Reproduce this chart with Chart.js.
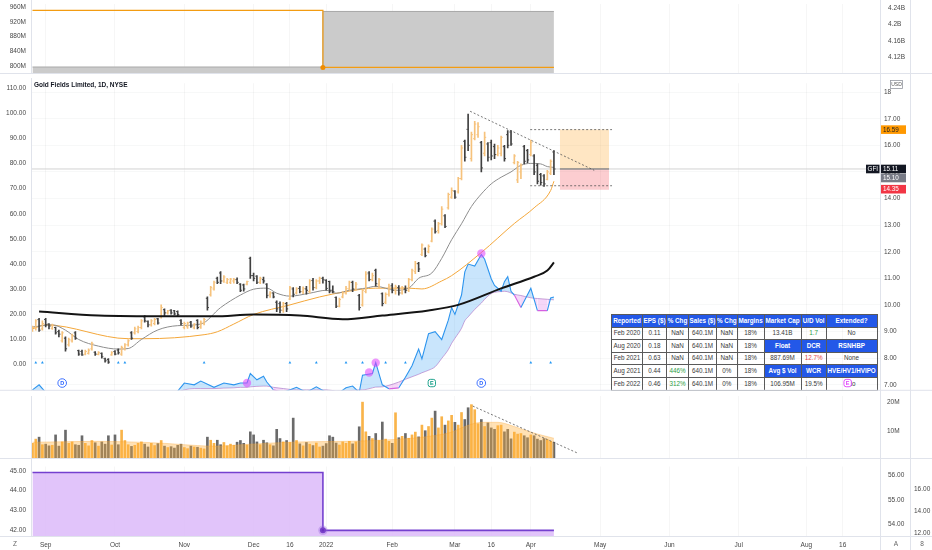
<!DOCTYPE html>
<html>
<head>
<meta charset="utf-8">
<title>Gold Fields Limited, 1D, NYSE</title>
<script src="https://cdn.jsdelivr.net/npm/chart.js@4.4.1/dist/chart.umd.min.js"></script>
<style>
  body { margin: 0; background: #fff; }
  #wrap { position: relative; width: 932px; height: 550px; overflow: hidden; }
  #wrap canvas { position: absolute; left: 0; z-index: 1; }
  #tbl { position: absolute; left: 611px; top: 314px; z-index: 0; border-collapse: collapse; table-layout: fixed;
         font: 6.3px "Liberation Sans", Arial, sans-serif; color: #3a3a3a; background: #fff; }
  #tbl td { border: 1px solid #5a5a5a; height: 11.6px; padding: 0; line-height: 1; text-align: center; white-space: nowrap; overflow: hidden; }
  #tbl tr.h td, #tbl td.b { background: #2358e8; color: #fff; font-weight: bold; }
  #tbl .g { color: #2e9e45; }
  #tbl .r { color: #e5484d; }
</style>
</head>
<body>
<div id="wrap">
  <table id="tbl">
    <colgroup><col style="width:31px"><col style="width:24px"><col style="width:22px"><col style="width:28px"><col style="width:20px"><col style="width:27px"><col style="width:37px"><col style="width:25px"><col style="width:51px"></colgroup>
    <tr class="h"><td>Reported</td><td>EPS ($)</td><td>% Chg</td><td>Sales ($)</td><td>% Chg</td><td>Margins</td><td>Market Cap</td><td>U/D Vol</td><td>Extended?</td></tr>
    <tr><td>Feb 2020</td><td>0.11</td><td>NaN</td><td>640.1M</td><td>NaN</td><td>18%</td><td>13.41B</td><td class="g">1.7</td><td>No</td></tr>
    <tr><td>Aug 2020</td><td>0.18</td><td>NaN</td><td>640.1M</td><td>NaN</td><td>18%</td><td class="b">Float</td><td class="b">DCR</td><td class="b">RSNHBP</td></tr>
    <tr><td>Feb 2021</td><td>0.63</td><td>NaN</td><td>640.1M</td><td>NaN</td><td>18%</td><td>887.69M</td><td class="r">12.7%</td><td>None</td></tr>
    <tr><td>Aug 2021</td><td>0.44</td><td class="g">446%</td><td>640.1M</td><td>0%</td><td>18%</td><td class="b">Avg $ Vol</td><td class="b">WCR</td><td class="b">HVE/HV1/HVIPO</td></tr>
    <tr><td>Feb 2022</td><td>0.46</td><td class="g">312%</td><td>640.1M</td><td>0%</td><td>18%</td><td>106.95M</td><td>19.5%</td><td>No</td></tr>
  </table>
  <canvas id="cTop" width="932" height="78" style="top:0"></canvas>
  <canvas id="cMain" width="932" height="318" style="top:78px"></canvas>
  <canvas id="cVol" width="932" height="63" style="top:396px"></canvas>
  <canvas id="cBot" width="932" height="91" style="top:459px"></canvas>
</div>
<script>
// daily bars, index 0 = Aug 26 2021, last = Apr 12 2022
var opens = [
  9.05,9.15,9.45,9.10,9.45,9.28,9.12,9.15,9.00,8.65,
  8.75,8.50,8.65,8.95,8.28,8.25,8.15,8.18,8.35,8.22,
  8.14,8.18,7.98,7.95,8.12,8.25,8.30,8.15,8.35,8.50,
  8.95,8.95,9.00,9.15,9.55,9.38,9.25,9.30,9.48,9.55,
  9.82,9.70,9.80,9.78,9.75,9.42,9.15,9.18,9.35,9.14,
  9.42,9.18,9.30,10.25,10.38,10.60,11.00,11.20,10.90,10.85,
  10.85,10.90,10.95,10.78,10.75,10.78,11.75,11.10,11.08,10.85,
  10.95,10.78,10.40,10.45,10.10,10.05,9.80,10.05,10.22,10.60,
  10.45,10.62,10.50,10.60,10.50,10.92,10.65,10.90,11.00,10.92,
  10.88,10.55,10.28,9.95,10.30,10.45,10.60,10.85,10.60,10.35,
  10.00,10.50,11.20,10.95,11.30,10.75,10.42,10.10,10.40,10.72,
  10.55,10.65,10.45,10.60,10.55,10.95,11.25,11.55,11.90,12.10,
  12.00,12.40,13.15,12.80,13.05,13.35,13.65,14.05,14.28,14.25,
  14.75,16.15,16.60,15.50,16.25,16.40,16.10,15.70,16.05,16.10,
  15.95,15.65,15.70,15.95,16.40,16.50,15.35,14.70,15.00,15.95,
  15.80,15.65,15.60,15.25,14.90,14.85,14.72,14.95,15.75
];
var highs = [
  9.20,9.45,9.50,9.40,9.50,9.30,9.28,9.17,9.05,9.00,
  8.80,8.75,8.90,9.00,8.30,8.30,8.30,8.35,8.60,8.25,
  8.25,8.20,8.00,7.98,8.25,8.28,8.35,8.45,8.55,8.70,
  9.00,9.17,9.20,9.45,9.60,9.40,9.45,9.50,9.50,10.00,
  9.85,9.80,9.82,9.80,9.78,9.45,9.35,9.35,9.38,9.30,
  9.45,9.40,9.50,10.30,10.70,10.90,11.05,11.25,11.10,11.00,
  11.00,11.00,11.02,10.80,10.78,10.90,11.80,11.20,11.10,11.05,
  11.05,10.80,10.50,10.46,10.15,10.12,10.10,10.10,10.70,10.65,
  10.65,10.70,10.68,10.70,10.95,11.00,10.95,11.05,11.05,10.95,
  10.90,10.72,10.30,10.26,10.50,10.70,10.90,10.90,10.85,10.40,
  10.60,11.25,11.25,11.20,11.35,11.00,10.45,10.45,10.78,10.80,
  10.75,10.73,10.70,10.72,11.00,11.35,11.64,11.60,12.30,12.15,
  12.26,12.90,13.20,13.10,13.70,13.40,14.20,14.40,14.30,14.80,
  16.00,16.20,17.17,16.50,16.90,16.85,16.15,16.50,16.10,16.20,
  16.05,16.00,16.35,16.00,16.55,16.55,15.65,15.40,15.30,16.00,
  15.85,16.20,15.65,15.30,14.95,14.90,15.06,15.45,15.80
];
var lows = [
  9.00,9.05,9.00,9.05,9.17,9.10,9.08,8.90,8.80,8.60,
  8.26,8.45,8.60,8.70,8.10,8.10,8.12,8.15,8.30,8.10,
  8.12,8.00,7.85,7.80,8.10,8.12,8.15,8.10,8.30,8.45,
  8.70,8.90,8.95,9.10,9.35,9.17,9.20,9.25,9.28,9.50,
  9.60,9.65,9.65,9.62,9.60,9.25,9.10,9.12,9.15,9.10,
  9.10,9.12,9.25,9.80,10.33,10.55,10.80,10.80,10.85,10.80,
  10.80,10.82,10.80,10.50,10.52,10.75,11.00,10.90,10.80,10.80,
  10.82,10.26,10.28,10.26,9.75,9.70,9.72,9.75,10.20,10.30,
  10.40,10.45,10.42,10.40,10.45,10.55,10.60,10.80,10.82,10.55,
  10.45,10.45,9.90,9.92,10.26,10.40,10.55,10.50,10.55,9.80,
  9.95,10.45,10.90,10.90,10.70,10.65,9.96,10.05,10.33,10.45,
  10.40,10.37,10.40,10.45,10.50,10.90,11.17,11.25,11.85,11.80,
  11.95,12.37,12.70,12.70,13.00,12.90,13.60,14.00,14.00,14.20,
  14.70,15.40,15.80,15.40,16.20,16.30,15.00,15.60,15.40,15.45,
  15.50,15.60,15.60,15.40,15.90,16.00,15.30,14.60,14.75,15.30,
  15.35,15.60,14.90,14.55,14.50,14.45,14.70,14.90,14.90
];
var closes = [
  9.15,9.40,9.05,9.30,9.25,9.20,9.24,8.95,8.90,8.95,
  8.35,8.70,8.85,8.75,8.15,8.12,8.25,8.30,8.55,8.15,
  8.20,8.05,7.90,7.85,8.20,8.15,8.20,8.40,8.50,8.65,
  8.75,9.10,9.15,9.40,9.40,9.25,9.40,9.45,9.32,9.90,
  9.70,9.78,9.70,9.66,9.64,9.30,9.30,9.32,9.20,9.28,
  9.15,9.35,9.45,9.90,10.65,10.85,10.85,10.90,11.05,10.95,
  10.97,10.95,10.85,10.55,10.60,10.88,11.10,11.00,10.85,11.00,
  10.90,10.35,10.45,10.30,9.85,9.80,10.05,9.85,10.65,10.40,
  10.60,10.50,10.62,10.55,10.90,10.65,10.90,11.00,10.95,10.62,
  10.55,10.50,9.95,10.20,10.45,10.62,10.85,10.60,10.78,9.90,
  10.55,11.15,10.95,11.10,10.80,10.95,10.05,10.40,10.70,10.55,
  10.68,10.45,10.65,10.55,10.95,11.30,11.55,11.35,12.25,11.85,
  12.20,12.85,12.75,13.05,13.60,12.95,14.15,14.30,14.05,14.75,
  15.90,15.55,16.00,16.40,16.80,16.70,15.15,16.30,15.55,15.60,
  15.65,15.90,16.30,15.50,16.00,16.05,15.60,15.35,15.25,15.40,
  15.45,16.10,15.00,14.65,14.60,14.55,15.00,15.40,15.11
];
var volumes = [
  5.5,7.0,7.7,5.0,5.2,4.6,4.8,8.5,4.5,6.0,
  10.2,5.5,6.0,5.0,4.8,8.2,5.5,4.6,6.5,5.7,
  4.5,6.0,5.2,8.2,4.9,8.5,5.0,10.2,6.5,5.0,
  4.4,4.8,5.5,6.0,5.2,4.2,5.5,4.7,5.4,6.5,
  4.5,4.0,4.3,3.8,4.8,5.2,4.0,3.6,4.5,4.2,
  4.1,3.8,3.5,7.7,6.6,5.5,6.6,5.0,5.8,4.6,
  5.2,4.8,5.9,6.5,5.5,4.9,9.6,8.5,6.0,5.0,
  6.6,5.7,5.0,4.6,10.5,7.2,6.0,6.5,5.8,14.5,
  6.5,5.3,4.6,5.8,5.2,4.7,5.6,4.2,4.5,5.4,
  8.2,7.7,5.6,4.9,6.0,5.5,6.2,5.3,6.0,11.4,
  20.2,9.6,8.0,7.2,9.0,6.5,13.1,7.0,6.2,5.5,
  16.4,7.5,8.0,9.0,7.3,8.5,9.5,7.8,12.0,10.0,
  11.5,14.5,17.0,11.0,15.0,12.0,13.5,15.5,13.0,12.0,
  16.5,14.0,18.2,19.3,17.5,12.5,14.0,11.5,12.8,11.0,
  10.5,11.8,12.0,9.6,10.5,7.1,9.5,8.8,9.0,8.2,
  7.5,8.5,8.2,7.0,6.5,7.2,6.8,6.2,5.9
];

// moving averages (bar index, value)
var ema21Idx = [0,6,10,14,20,26,29,33,38,44,51,57,63,67,71,74,78,84,89,92,96,101,104,110,114,117,121,124,127,130,133,136,139,142,145,148,151,154,156,158];
var ema21 = [9.17,9.25,9.05,8.70,8.45,8.34,8.36,8.70,9.06,9.22,9.28,9.90,10.37,10.59,10.63,10.44,10.33,10.44,10.55,10.44,10.55,10.63,10.70,10.55,10.63,11.00,11.20,11.75,12.45,13.05,13.70,14.17,14.55,14.80,15.00,15.25,15.32,15.30,15.20,15.17];
var sma50Idx = [0,4,29,34,52,56,61,67,78,87,95,104,114,118,124,127,136,146,152,157,158];
var sma50 = [9.10,9.25,8.73,8.73,8.88,8.99,9.28,9.64,10.00,10.30,10.50,10.63,10.63,10.60,10.90,11.10,11.97,13.06,13.65,14.30,14.65];
var sma200Idx = [2,20,41,55,67,81,94,106,120,129,142,152,156,158];
var sma200 = [9.75,9.60,9.57,9.57,9.64,9.60,9.46,9.60,9.79,10.00,10.62,11.06,11.29,11.60];

// relative strength line and its average (left scale)
var rsIdx = [0,2,4,8,40,44,46,49,51,55,58,61,63,65,66,68,70,71,73,76,80,83,86,89,92,95,97,99,100,103,104,106,108,111,113,115,117,118,120,122,124,126,127,128,130,131,132,134,136,137,139,140,142,143,144,145,146,148,151,153,156,157,158];
var rsLine = [-10,-8,-11,-14,-14,-10.5,-7.3,-8,-6.5,-9,-7.3,-8,-7.3,-7.3,-3.5,-6,-4.6,-6.9,-10,-11,-9,-11,-8.8,-11,-12,-9.2,-8.5,-11,-4.2,-3.5,0.8,-8,-9.6,-9.2,-5,-0.4,6.2,2.3,12.3,13.1,10,17.7,22.7,20,27.7,36.9,40,39.2,43.8,41.9,34.2,31.5,29.2,33,35,29.2,27.7,22.7,30.4,21.5,21.5,26.5,26.9];
var rsAvg = [-12,-12,-12,-13,-13,-11,-10,-9.5,-9.5,-9.5,-9.3,-9.2,-9,-9,-8.8,-8.6,-8.5,-8.5,-9,-9.5,-10,-10,-10,-10,-10.5,-10.5,-10.2,-10,-10,-9.2,-8.9,-8.8,-8.2,-6.9,-5.8,-4.8,-3.8,-3.2,-2.2,-0.8,2.5,6,8.5,10.5,14.5,17.5,19,22,24.5,26,28.3,28.8,29.1,29.2,29,28.5,28,27.5,26.6,26.3,26,25.9,25.8];
var rsDotIdx = [65,102,104,136];
var rsDots = [-7.3,-3.1,0.8,44.2];
var signalIdx = [1,3,26,28,52,78,86,95,100,107,113,151,157];
var signalLevel = 0.8;
var eventIdx = [9,121,136,247];
var eventType = ['D','E','D','E'];
var eventLevel = -7.3;

// volume average (millions)
var volAvgIdx = [0,10,20,30,40,50,55,66,80,95,105,115,122,127,131,136,141,146,151,155,158];
var volAvg = [5.9,6.1,6.2,6.0,5.5,4.7,4.5,5.2,6.0,6.2,6.6,7.3,8.3,9.5,11.5,13.0,13.0,11.5,9.5,8.2,7.3];

// upper and lower panels: step series
var sharesIdx = [0,88,158];
var sharesOrange = [951,796,796];
var sharesGray = [797,948,948];
var lowerIdx = [0,88,158];
var lowerLine = [44.92,41.97,41.97];

// drawn levels
var lastPrice = 15.11;
var targetPrice = 16.59;
var stopPrice = 14.33;
var tagValues = [16.59, 15.11, 15.10, 14.35];
var trendPts = [[132.6,17.28],[170.2,15.06]];
var resistance = [[150.8,16.59],[175.6,16.59]];
var support = [[150.8,14.48],[175.6,14.48]];
var boxFrom = 159.8, boxTo = 174.7;
var volTrend = [[133.4,18.8],[165,2.1]];

// axes
var monthTicks = [4,25,46,67,78,89,109,128,139,151,172,193,214,234.5,245.5];
var monthLabels = ['Sep','Oct','Nov','Dec','16','2022','Feb','Mar','16','Apr','May','Jun','Jul','Aug','16'];
var priceTicks = [7,8,9,10,11,12,13,14,15,16,17,18];
var rsTicks = [0,10,20,30,40,50,60,70,80,90,100,110];
var volTicks = [10,20];
var topLeftTicks = [800,840,880,920,960];
var topRightTicks = [4.12,4.16,4.2,4.24];
var botLeftTicks = [42,43,44,45];
var botRightTicks = [54,55,56];
var botFarTicks = [12,14,16];

var X_MIN = -0.45, X_MAX = 256.8;
var UP = '#f6c27c', DOWN = '#404040';
var VUP = '#f9b44a', VDOWN = '#6a6a6a';
var FONT = '"Liberation Sans", Arial, sans-serif';

Chart.defaults.font.family = FONT;
Chart.defaults.font.size = 6.5;
Chart.defaults.color = '#474747';
Chart.defaults.animation = false;
Chart.defaults.plugins.legend.display = false;
Chart.defaults.plugins.tooltip.enabled = false;
Chart.defaults.elements.point.radius = 0;
Chart.defaults.elements.line.borderWidth = 1;

function pts(xs, ys) {
	return xs.map(function(x, i){ return {x: x, y: ys[i]}; });
}
function pairs(arr) {
	return arr.map(function(p){ return {x: p[0], y: p[1]}; });
}
function isUp(i) { return closes[i] >= opens[i]; }

function xAxis(labels) {
	return {
		type: 'linear', min: X_MIN, max: X_MAX, offset: false,
		grid: { color: 'rgba(42,46,57,0.045)', drawTicks: false, offset: false },
		border: { display: false },
		ticks: { display: labels, autoSkip: false, maxRotation: 0, padding: 4,
			callback: function(v, i){ return monthLabels[i]; } },
		afterBuildTicks: function(s){ s.ticks = monthTicks.map(function(v){ return {value: v}; }); },
		afterFit: function(s){ s.height = labels ? 13 : 0; s.paddingLeft = 0; s.paddingRight = 0; }
	};
}
function yAxis(pos, min, max, ticks, fmt, width, pad, extra) {
	var a = {
		type: 'linear', position: pos, min: min, max: max,
		grid: { display: false, drawTicks: false },
		border: { display: false },
		ticks: { padding: pad, autoSkip: false, callback: fmt },
		afterBuildTicks: function(s){ s.ticks = ticks.map(function(v){ return {value: v}; }); },
		afterFit: function(s){ s.width = width; s.paddingTop = 0; s.paddingBottom = 0; }
	};
	for (var k in extra) a[k] = extra[k];
	return a;
}

// panel separators
var frame = {
	id: 'frame',
	afterDraw: function(chart) {
		var c = chart.ctx, a = chart.chartArea;
		c.save();
		c.strokeStyle = '#e0e3eb';
		c.lineWidth = 1;
		c.beginPath();
		c.moveTo(a.left + 0.5, 0); c.lineTo(a.left + 0.5, a.bottom);
		c.moveTo(a.right + 0.5, 0); c.lineTo(a.right + 0.5, chart.height);
		c.moveTo(910.5, 0); c.lineTo(910.5, chart.height);
		c.moveTo(0, a.bottom - 0.5); c.lineTo(chart.width, a.bottom - 0.5);
		c.stroke();
		c.restore();
	}
};

// letters inside event markers
var markerText = {
	id: 'markerText',
	afterDatasetsDraw: function(chart) {
		var c = chart.ctx;
		chart.data.datasets.forEach(function(ds, di){
			if (!ds.letters) return;
			chart.getDatasetMeta(di).data.forEach(function(pt, j){
				c.save();
				c.font = 'bold 5.5px ' + FONT;
				c.fillStyle = ds.pointBorderColor[j];
				c.textAlign = 'center';
				c.textBaseline = 'middle';
				c.fillText(ds.letters[j], pt.x, pt.y + 0.5);
				c.restore();
			});
		});
	}
};

// title, currency box, price tags
var mainDecor = {
	id: 'mainDecor',
	afterDraw: function(chart) {
		var c = chart.ctx, yR = chart.scales.yR;
		c.save();
		c.font = 'bold 6.5px ' + FONT;
		c.fillStyle = '#131722';
		c.textBaseline = 'middle';
		c.fillText('Gold Fields Limited, 1D, NYSE', 34, 7.5);

		c.strokeStyle = '#9598a1';
		c.lineWidth = 0.8;
		c.fillStyle = '#fff';
		c.fillRect(890, 2.5, 13, 8);
		c.strokeRect(890.5, 2.5, 12, 8);
		c.font = '5px ' + FONT;
		c.fillStyle = '#555';
		c.textAlign = 'center';
		c.fillText('USD', 896.5, 6.7);

		var bg = ['#ff9800', '#131722', '#787b86', '#f23645'];
		var fg = ['#222', '#fff', '#fff', '#fff'];
		var prev = -100;
		c.font = '6.3px ' + FONT;
		c.textAlign = 'left';
		tagValues.forEach(function(v, i){
			var y = yR.getPixelForValue(v);
			if (y < prev + 9) y = prev + 9;
			prev = y;
			c.fillStyle = bg[i];
			c.fillRect(881, y - 4.3, 25, 8.6);
			c.fillStyle = fg[i];
			c.fillText(v.toFixed(2), 883, y + 0.4);
			if (i === 1) {
				c.fillStyle = bg[i];
				c.fillRect(866, y - 4.3, 13.5, 8.6);
				c.fillStyle = '#fff';
				c.fillText('GFI', 867.5, y + 0.4);
			}
		});
		c.restore();
	}
};

var axisIcons = {
	id: 'axisIcons',
	afterDraw: function(chart) {
		var c = chart.ctx;
		c.save();
		c.font = '6.5px ' + FONT;
		c.fillStyle = '#666';
		c.textAlign = 'center';
		c.textBaseline = 'middle';
		c.fillText('Z', 15, 85);
		c.fillText('A', 896, 85);
		c.fillText('8', 922, 85);
		c.restore();
	}
};

// ---------- top panel ----------
new Chart(document.getElementById('cTop'), {
	type: 'line',
	data: { datasets: [
		{ data: [{x: sharesIdx[1], y: sharesOrange[1]}], showLine: false, pointRadius: 2.5,
		  pointBackgroundColor: '#f08c00', pointBorderWidth: 0, yAxisID: 'yL', order: 0 },
		{ data: pts(sharesIdx, sharesOrange), stepped: true, borderColor: '#f39c12', borderWidth: 1.2, yAxisID: 'yL', order: 1 },
		{ data: pts(sharesIdx, sharesGray), stepped: true, borderColor: '#a9a9a9', borderWidth: 1,
		  backgroundColor: '#cbcbcb', fill: 'start', yAxisID: 'yL', order: 2 }
	]},
	options: {
		responsive: false,
		layout: { padding: { left: 0, right: 22, top: 0, bottom: 0 } },
		scales: {
			x: xAxis(false),
			yL: yAxis('left', 778, 968.3, topLeftTicks, function(v){ return v + 'M'; }, 31, 5),
			yR: yAxis('right', 4.078, 4.251, topRightTicks, function(v){ return v + 'B'; }, 30, 8)
		}
	},
	plugins: [frame]
});

// ---------- main panel ----------
var priceBars = highs.map(function(h, i){ return {x: i, y: [lows[i], h]}; });
var barColors = highs.map(function(h, i){ return isUp(i) ? UP : DOWN; });
var openTicks = opens.map(function(o, i){ return {x: i - 0.3, y: o}; });
var closeTicks = closes.map(function(v, i){ return {x: i + 0.3, y: v}; });
var PINK = '#d660e0', BLUE = '#2e95ee';

new Chart(document.getElementById('cMain'), {
	data: { datasets: [
		// 0 event markers
		{ type: 'line', showLine: false, data: eventIdx.map(function(x){ return {x: x, y: eventLevel}; }),
		  letters: eventType,
		  pointStyle: eventType.map(function(t){ return t === 'D' ? 'circle' : 'rectRounded'; }),
		  pointRadius: 4.3, pointBackgroundColor: '#fff', pointBorderWidth: 0.9,
		  pointBorderColor: eventIdx.map(function(x, i){ return eventType[i] === 'D' ? '#2962ff' : (x > closes.length ? '#e040fb' : '#089981'); }),
		  yAxisID: 'yL', order: -5, clip: false },
		// 1 rs highs
		{ type: 'line', showLine: false, data: pts(rsDotIdx, rsDots), pointRadius: 4.2,
		  pointBackgroundColor: 'rgba(224,64,251,0.55)', pointBorderWidth: 0, yAxisID: 'yL', order: -4 },
		// 2 signals
		{ type: 'line', showLine: false, data: signalIdx.map(function(x){ return {x: x, y: signalLevel}; }),
		  pointStyle: 'triangle', pointRadius: 1.6, pointBackgroundColor: '#2196f3', pointBorderWidth: 0,
		  yAxisID: 'yL', order: -4 },
		// 3 price bars
		{ type: 'bar', data: priceBars, backgroundColor: barColors, barThickness: 1, grouped: false,
		  yAxisID: 'yR', order: 1 },
		// 4 open ticks
		{ type: 'line', showLine: false, data: openTicks, pointStyle: 'line', pointRadius: 0.6,
		  pointBorderWidth: 1, pointBorderColor: barColors, yAxisID: 'yR', order: 1 },
		// 5 close ticks
		{ type: 'line', showLine: false, data: closeTicks, pointStyle: 'line', pointRadius: 0.6,
		  pointBorderWidth: 1, pointBorderColor: barColors, yAxisID: 'yR', order: 1 },
		// 6 ema 21
		{ type: 'line', data: pts(ema21Idx, ema21), borderColor: '#8d8d8d', borderWidth: 1,
		  cubicInterpolationMode: 'monotone', yAxisID: 'yR', order: 2 },
		// 7 sma 50
		{ type: 'line', data: pts(sma50Idx, sma50), borderColor: '#f4a73a', borderWidth: 1,
		  cubicInterpolationMode: 'monotone', yAxisID: 'yR', order: 2 },
		// 8 sma 200
		{ type: 'line', data: pts(sma200Idx, sma200), borderColor: '#141414', borderWidth: 2,
		  cubicInterpolationMode: 'monotone', yAxisID: 'yR', order: 0 },
		// 9 rs line
		{ type: 'line', data: pts(rsIdx, rsLine), borderColor: BLUE, borderWidth: 1.1,
		  fill: { target: 10, above: 'rgba(100,180,245,0.35)', below: 'rgba(220,110,230,0.28)' },
		  segment: { borderColor: function(c){
		      return (rsLine[c.p0DataIndex] < rsAvg[c.p0DataIndex] && rsLine[c.p1DataIndex] < rsAvg[c.p1DataIndex]) ? PINK : BLUE; } },
		  yAxisID: 'yL', order: 3 },
		// 10 rs average
		{ type: 'line', data: pts(rsIdx, rsAvg), borderColor: 'rgba(170,110,190,0.8)', borderWidth: 0.8,
		  cubicInterpolationMode: 'monotone', yAxisID: 'yL', order: 3 },
		// 11 last price line
		{ type: 'line', data: [{x: X_MIN, y: lastPrice}, {x: X_MAX, y: lastPrice}], borderColor: '#d2d2d2',
		  borderWidth: 1, yAxisID: 'yR', order: 5 },
		// 12 falling trendline
		{ type: 'line', data: pairs(trendPts), borderColor: '#555', borderWidth: 0.8, borderDash: [2, 2],
		  yAxisID: 'yR', order: 0 },
		// 13 resistance
		{ type: 'line', data: pairs(resistance), borderColor: '#555', borderWidth: 0.8, borderDash: [2, 2],
		  yAxisID: 'yR', order: 0 },
		// 14 support
		{ type: 'line', data: pairs(support), borderColor: '#555', borderWidth: 0.8, borderDash: [2, 2],
		  yAxisID: 'yR', order: 0 },
		// 15 target box top
		{ type: 'line', data: [{x: boxFrom, y: targetPrice}, {x: boxTo, y: targetPrice}], borderWidth: 0,
		  fill: { target: 16, above: 'rgba(255,167,38,0.28)', below: 'rgba(255,167,38,0.28)' },
		  yAxisID: 'yR', order: 6 },
		// 16 entry
		{ type: 'line', data: [{x: boxFrom, y: lastPrice}, {x: boxTo, y: lastPrice}], borderColor: '#666',
		  borderWidth: 1, yAxisID: 'yR', order: 4 },
		// 17 stop box
		{ type: 'line', data: [{x: boxFrom, y: stopPrice}, {x: boxTo, y: stopPrice}], borderWidth: 0,
		  fill: { target: 16, above: 'rgba(242,54,69,0.25)', below: 'rgba(242,54,69,0.25)' },
		  yAxisID: 'yR', order: 6 }
	]},
	options: {
		responsive: false,
		layout: { padding: { left: 0, right: 22, top: 0, bottom: 0 } },
		scales: {
			x: xAxis(false),
			yL: yAxis('left', -10.38, 111.92, rsTicks, function(v){ return v.toFixed(2); }, 31, 5),
			yR: yAxis('right', 6.771, 18.335, priceTicks, function(v){ return v >= 18 ? '18' : v.toFixed(2); }, 30, 4,
				{ grid: { color: 'rgba(42,46,57,0.035)', drawTicks: false } })
		}
	},
	plugins: [frame, markerText, mainDecor]
});

// ---------- volume panel ----------
new Chart(document.getElementById('cVol'), {
	data: { datasets: [
		{ type: 'line', data: pairs(volTrend), borderColor: '#555', borderWidth: 0.8, borderDash: [2, 2],
		  yAxisID: 'yR', order: 0 },
		{ type: 'line', data: pts(volAvgIdx, volAvg), borderColor: 'rgba(247,160,40,0.3)', borderWidth: 1,
		  backgroundColor: 'rgba(255,176,60,0.38)', fill: 'origin', cubicInterpolationMode: 'monotone',
		  yAxisID: 'yR', order: 1 },
		{ type: 'bar', data: volumes.map(function(v, i){ return {x: i, y: v}; }),
		  backgroundColor: volumes.map(function(v, i){ return isUp(i) ? VUP : VDOWN; }),
		  barThickness: 2, grouped: false, yAxisID: 'yR', order: 2 }
	]},
	options: {
		responsive: false,
		layout: { padding: { left: 31, right: 22, top: 0, bottom: 0 } },
		scales: {
			x: xAxis(false),
			yR: yAxis('right', -0.1, 22.39, volTicks, function(v){ return v + 'M'; }, 30, 7)
		}
	},
	plugins: [frame]
});

// ---------- lower panel + time axis ----------
new Chart(document.getElementById('cBot'), {
	type: 'line',
	data: { datasets: [
		{ data: [{x: lowerIdx[1], y: lowerLine[1]}], showLine: false, pointRadius: 3,
		  pointBackgroundColor: '#6a2fc0', pointBorderWidth: 3.5, pointBorderColor: 'rgba(150,100,220,0.35)',
		  yAxisID: 'yL', order: 0 },
		{ data: pts(lowerIdx, lowerLine), stepped: true, borderColor: '#7440cf', borderWidth: 1.6,
		  backgroundColor: 'rgba(222,190,250,0.9)', fill: 'start', yAxisID: 'yL', order: 1 }
	]},
	options: {
		responsive: false,
		layout: { padding: 0 },
		scales: {
			x: xAxis(true),
			yL: yAxis('left', 41.63, 45.23, botLeftTicks, function(v){ return v.toFixed(2); }, 31, 5),
			yR: yAxis('right', 53.467, 56.372, botRightTicks, function(v){ return v.toFixed(2); }, 30, 8, { weight: 0 }),
			yF: yAxis('right', 11.647, 18.05, botFarTicks, function(v){ return v.toFixed(2); }, 22, 4, { weight: 1 })
		}
	},
	plugins: [frame, axisIcons]
});
</script>
</body>
</html>
